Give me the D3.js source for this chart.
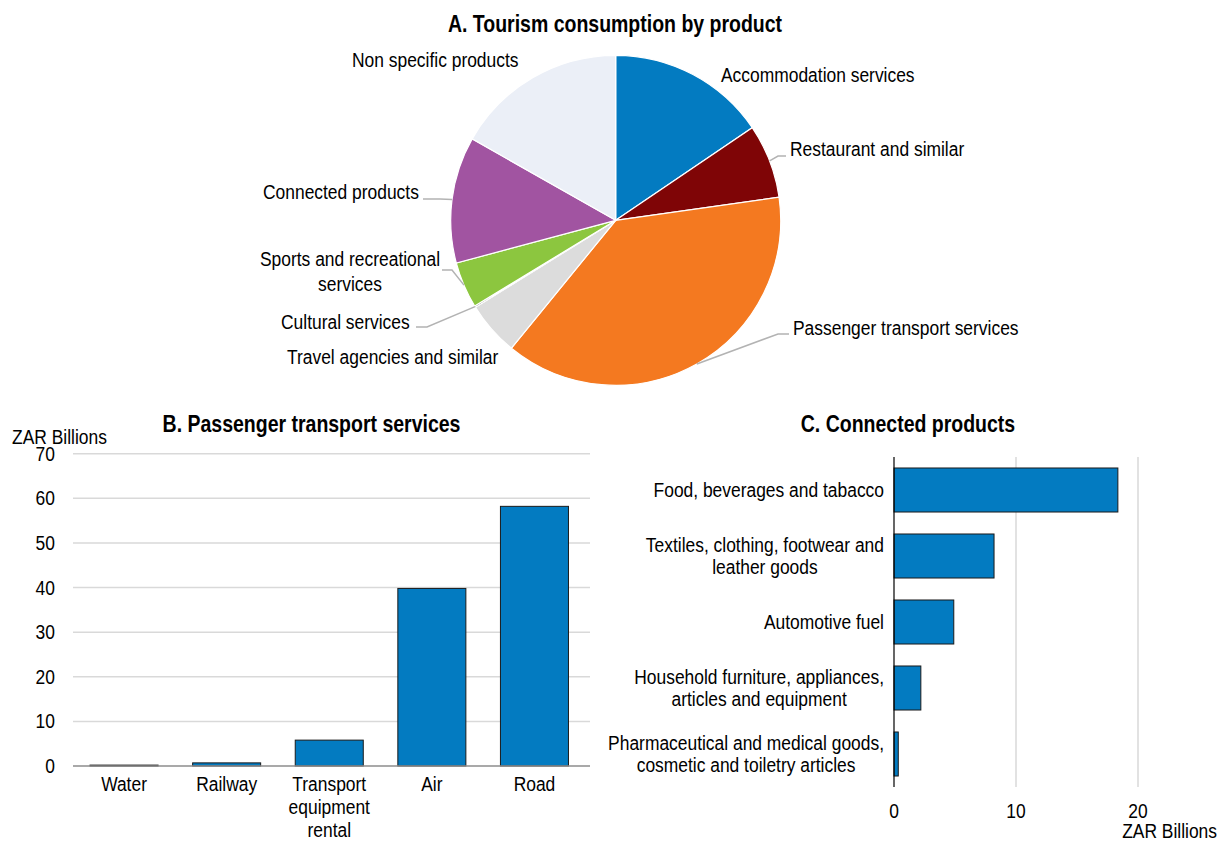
<!DOCTYPE html>
<html><head><meta charset="utf-8">
<script src="https://cdn.jsdelivr.net/npm/d3@7"></script>
<style>
html,body{margin:0;padding:0;background:#fff;}
svg text{font-family:"Liberation Sans",Arial,sans-serif;fill:#000;}
</style></head>
<body>
<svg id="chart" width="1227" height="842"></svg>
<script>
// ---- Data ----
const pieCategories = ["Accommodation services","Restaurant and similar","Passenger transport services","Travel agencies and similar","Cultural services","Sports and recreational services","Connected products","Non specific products"];
const pieValues = [42.6, 19.9, 104.7, 14.5, 0.4, 12.4, 34.0, 46.1];
const pieColors = ["#037BC1","#7F0506","#F47920","#DCDCDC","#1a1a1a","#8CC63F","#A154A1","#EBEFF7"];

const transportCategories = ["Water","Railway","Transport equipment rental","Air","Road"];
const transportValues = [0.2, 0.7, 5.8, 39.8, 58.2];
const transportTicks = [0,10,20,30,40,50,60,70];

const connectedCategories = ["Food, beverages and tabacco","Textiles, clothing, footwear and leather goods","Automotive fuel","Household furniture, appliances, articles and equipment","Pharmaceutical and medical goods, cosmetic and toiletry articles"];
const connectedValues = [18.35, 8.2, 4.9, 2.2, 0.35];
const connectedTicks = [0,10,20];

// label line splits
const pieLabelLines = [["Accommodation services"],["Restaurant and similar"],["Passenger transport services"],["Travel agencies and similar"],["Cultural services"],["Sports and recreational","services"],["Connected products"],["Non specific products"]];
const transportLabelLines = [["Water"],["Railway"],["Transport","equipment","rental"],["Air"],["Road"]];
const connectedLabelLines = [["Food, beverages and tabacco"],["Textiles, clothing, footwear and","leather goods"],["Automotive fuel"],["Household furniture, appliances,","articles and equipment"],["Pharmaceutical and medical goods,","cosmetic and toiletry articles"]];

const svg = d3.select("#chart");
const FS = 21, TFS = 23.5, SX = 0.83;
const blue = "#037BC1";

// narrow text helper: lines, anchor; returns text
function ntext(parent, x, y, lines, opts = {}) {
  const anchor = opts.anchor || "start";
  const lh = opts.lh || 23;
  const g = parent.append("g").attr("transform", `translate(${x},${y}) scale(${SX},1)`);
  const t = g.append("text").attr("x", 0).attr("y", 0).attr("text-anchor", anchor)
    .attr("font-size", opts.size || FS).attr("font-weight", opts.bold ? "bold" : null);
  lines.forEach((ln, j) => t.append("tspan").attr("x", 0).attr("y", j * lh).text(ln));
  return t;
}

// ---- Panel A: pie ----
const cx = 615.7, cy = 220.3, R = 165;
const gA = svg.append("g").attr("transform", `translate(${cx},${cy})`);
const pie = d3.pie().sort(null).value(d => d)(pieValues);
const arc = d3.arc().innerRadius(0).outerRadius(R);
const arcEdge = d3.arc().innerRadius(R).outerRadius(R);
gA.selectAll("path.slice").data(pie).join("path")
  .attr("class","slice").attr("d", arc)
  .attr("fill", (d,i) => pieColors[i])
  .attr("stroke", "#fff").attr("stroke-width", 1.2);

ntext(svg, 615, 32, ["A. Tourism consumption by product"], {anchor:"middle", size:TFS, bold:true});

// label layout (absolute positions)
const pieLabelLayout = [
  {x:721, y:82, anchor:"start"},
  {x:790, y:156, anchor:"start", knee:[778,156], end:[786,156]},
  {x:793, y:335, anchor:"start", knee:[778,334], end:[789,334]},
  {x:287, y:364, anchor:"start"},
  {x:281, y:329, anchor:"start", knee:[427,327], end:[416,327]},
  {x:350, y:266, anchor:"middle", knee:[452,270], end:[442,270]},
  {x:263, y:199, anchor:"start", knee:[440,199], end:[423,199]},
  {x:352, y:67, anchor:"start"}
];
pie.forEach((d,i) => {
  const L = pieLabelLayout[i];
  if (L.knee) {
    const c = arcEdge.centroid(d);
    const p0 = [cx + c[0], cy + c[1]];
    svg.append("polyline").attr("points", [p0, L.knee, L.end].map(p => p.join(",")).join(" "))
      .attr("fill","none").attr("stroke","#b3b3b3").attr("stroke-width",1.5);
  }
  ntext(svg, L.x, L.y, pieLabelLines[i], {anchor: L.anchor, lh: 25});
});

// ---- Panel B: vertical bars ----
const bLeft = 73, bRight = 590, bTop = 453.7, bBottom = 766;
const xB = d3.scaleBand().domain(transportCategories).range([bLeft, 585.5]).paddingInner(0.337).paddingOuter(0.166);
const yB = d3.scaleLinear().domain([0,70]).range([bBottom, bTop]);
const gB = svg.append("g");
gB.selectAll("line.grid").data(transportTicks.filter(t => t > 0)).join("line")
  .attr("x1", bLeft).attr("x2", bRight).attr("y1", d => yB(d)).attr("y2", d => yB(d))
  .attr("stroke", "#d9d9d9").attr("stroke-width", 1.5);
transportTicks.forEach(t => ntext(gB, 55, yB(t) + 7, [String(t)], {anchor:"end"}));
gB.selectAll("rect.bar").data(transportValues).join("rect")
  .attr("x", (d,i) => xB(transportCategories[i])).attr("width", xB.bandwidth())
  .attr("y", d => yB(d)).attr("height", d => yB(0) - yB(d))
  .attr("fill", blue).attr("stroke", "#1a1a1a").attr("stroke-width", 1);
gB.append("line").attr("x1", bLeft).attr("x2", bRight).attr("y1", yB(0)).attr("y2", yB(0))
  .attr("stroke", "#8c8c8c").attr("stroke-width", 1.5);
transportCategories.forEach((c,i) => {
  const xc = xB(c) + xB.bandwidth()/2;
  ntext(gB, xc, 791, transportLabelLines[i], {anchor:"middle", lh:23});
});
ntext(svg, 12, 444, ["ZAR Billions"]);
ntext(svg, 311.5, 432, ["B. Passenger transport services"], {anchor:"middle", size:TFS, bold:true});

// ---- Panel C: horizontal bars ----
const cLeft = 894, cTop = 457, cBottom = 787;
const xC = d3.scaleLinear().domain([0,20]).range([cLeft, 1138]);
const yC = d3.scaleBand().domain(connectedCategories).range([cTop, cBottom]).paddingInner(0.333).paddingOuter(0.1665);
const gC = svg.append("g");
gC.selectAll("line.grid").data(connectedTicks.filter(t => t > 0)).join("line")
  .attr("x1", d => xC(d)).attr("x2", d => xC(d)).attr("y1", cTop).attr("y2", cBottom)
  .attr("stroke", "#d9d9d9").attr("stroke-width", 1.5);
gC.selectAll("rect.bar").data(connectedValues).join("rect")
  .attr("x", xC(0)).attr("width", d => xC(d) - xC(0))
  .attr("y", (d,i) => yC(connectedCategories[i])).attr("height", yC.bandwidth())
  .attr("fill", blue).attr("stroke", "#1a1a1a").attr("stroke-width", 1);
gC.append("line").attr("x1", xC(0)).attr("x2", xC(0)).attr("y1", cTop).attr("y2", cBottom)
  .attr("stroke", "#000").attr("stroke-width", 1.2);
connectedTicks.forEach(t => ntext(gC, xC(t), 818, [String(t)], {anchor:"middle"}));
connectedCategories.forEach((c,i) => {
  const yc = yC(c) + yC.bandwidth()/2;
  const lines = connectedLabelLines[i];
  const y0 = yc + 7 - (lines.length - 1) * 23 / 2;
  const probe = ntext(gC, 0, 0, lines, {anchor:"middle"});
  const maxW = d3.max(probe.selectAll("tspan").nodes(), n => n.getComputedTextLength()) * SX;
  probe.node().parentNode.remove();
  ntext(gC, 884 - maxW/2, y0, lines, {anchor:"middle", lh:23});
});
ntext(svg, 1217, 838, ["ZAR Billions"], {anchor:"end"});
ntext(svg, 908, 432, ["C. Connected products"], {anchor:"middle", size:TFS, bold:true});
</script>
</body></html>
